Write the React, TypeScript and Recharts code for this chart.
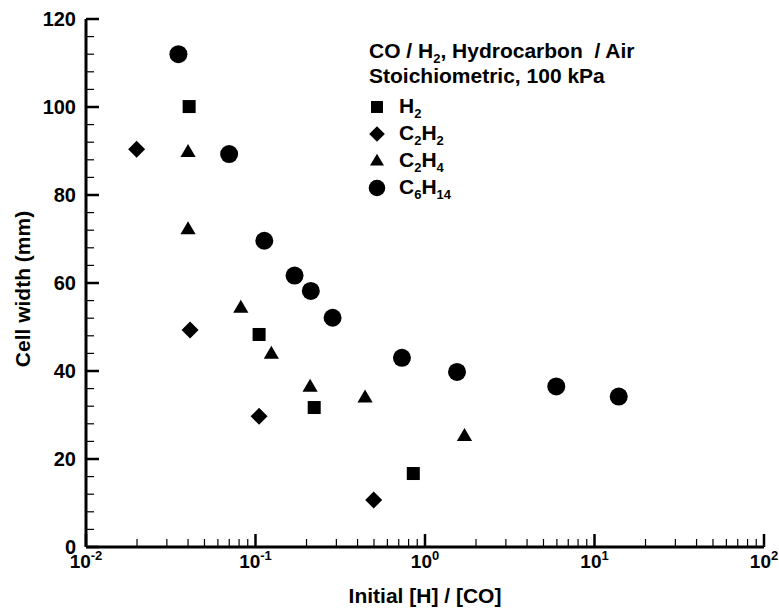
import React from 'react';
import { ScatterChart, Scatter, XAxis, YAxis, Legend, Label } from 'recharts';

const FONT = "'Liberation Sans', Arial, Helvetica, sans-serif";

// ---- data (x = initial [H]/[CO], y = cell width in mm) ----
const h2X = [0.0406, 0.105, 0.222, 0.853];
const h2Y = [100.1, 48.3, 31.7, 16.7];
const c2h2X = [0.0199, 0.0411, 0.105, 0.498];
const c2h2Y = [90.4, 49.3, 29.7, 10.7];
const c2h4X = [0.04, 0.04, 0.0819, 0.124, 0.21, 0.443, 1.71];
const c2h4Y = [89.8, 72.2, 54.4, 43.9, 36.4, 34.0, 25.2];
const c6h14X = [0.0351, 0.0699, 0.1127, 0.17, 0.212, 0.285, 0.731, 1.545, 5.95, 13.9];
const c6h14Y = [112.0, 89.3, 69.6, 61.7, 58.2, 52.1, 43.0, 39.8, 36.5, 34.2];

// ---- ticks ----
const xMajorTicks = [0.01, 0.1, 1, 10, 100];
const xMajorExponents = ['-2', '-1', '0', '1', '2'];
const xMinorMultipliers = [2, 3, 4, 5, 6, 7, 8, 9];
const yMajorTicks = [0, 20, 40, 60, 80, 100, 120];
const yMinorTicks = [4, 8, 12, 16, 24, 28, 32, 36, 44, 48, 52, 56, 64, 68, 72, 76, 84, 88, 92, 96, 104, 108, 112, 116];

// ---- legend texts ----
const legendTitle1 = ['CO / H', '2', ', Hydrocarbon  / Air'];
const legendTitle2 = 'Stoichiometric, 100 kPa';
const seriesNames = [
  [['H', '2']],
  [['C', '2'], ['H', '2']],
  [['C', '2'], ['H', '4']],
  [['C', '6'], ['H', '14']],
];
const seriesShapes = ['square', 'diamond', 'triangle', 'circle'];

const zip = (xs: number[], ys: number[]) => xs.map((x, i) => ({ x, y: ys[i] }));
const h2Data = zip(h2X, h2Y);
const c2h2Data = zip(c2h2X, c2h2Y);
const c2h4Data = zip(c2h4X, c2h4Y);
const c6h14Data = zip(c6h14X, c6h14Y);

const xTicks: number[] = [];
xMajorTicks.forEach((d, i) => {
  xTicks.push(d);
  if (i < xMajorTicks.length - 1) xMinorMultipliers.forEach((m) => xTicks.push(d * m));
});
const yTicks = [...yMajorTicks, ...yMinorTicks].sort((a, b) => a - b);

// ---- marker shapes ----
const markerPath = (kind: string, cx: number, cy: number, s = 1) => {
  switch (kind) {
    case 'square':
      return <rect x={cx - 6.5 * s} y={cy - 6.5 * s} width={13 * s} height={13 * s} fill="#000" />;
    case 'diamond': {
      const h = 8.5 * s;
      return <path d={`M${cx},${cy - h}L${cx + h},${cy}L${cx},${cy + h}L${cx - h},${cy}Z`} fill="#000" />;
    }
    case 'triangle':
      return <path d={`M${cx},${cy - 8 * s}L${cx + 7.6 * s},${cy + 5 * s}L${cx - 7.6 * s},${cy + 5 * s}Z`} fill="#000" />;
    default:
      return <circle cx={cx} cy={cy} r={9 * s} fill="#000" />;
  }
};
const makeShape = (kind: string) => (props: any) => {
  const { cx, cy } = props;
  if (cx == null || cy == null) return <g />;
  return markerPath(kind, cx, cy);
};

// ---- ticks ----
const isMajorX = (v: number) => xMajorTicks.findIndex((m) => Math.abs(v - m) / m < 1e-6);

const XTick = (props: any) => {
  const { x, y, payload } = props;
  const idx = isMajorX(payload.value);
  const major = idx >= 0;
  return (
    <g>
      <line x1={x} x2={x} y1={y} y2={y - (major ? 13 : 8)} stroke="#000" strokeWidth={major ? 2.5 : 1.2} />
      {major && (
        <text x={x} y={y + 21} textAnchor="middle" fontFamily={FONT} fontWeight="bold" fontSize={19} fill="#000">
          10<tspan dy={-8} fontSize={13}>{xMajorExponents[idx]}</tspan>
        </text>
      )}
    </g>
  );
};

const YTick = (props: any) => {
  const { x, y, payload } = props;
  const major = yMajorTicks.includes(payload.value);
  return (
    <g>
      <line x1={x} x2={x + (major ? 13 : 8)} y1={y} y2={y} stroke="#000" strokeWidth={major ? 2.5 : 1.2} />
      {major && (
        <text x={x - 10} y={y} dy="0.34em" textAnchor="end" fontFamily={FONT} fontWeight="bold" fontSize={20} fill="#000">
          {payload.value}
        </text>
      )}
    </g>
  );
};

const XTitle = (props: any) => {
  const vb = props.viewBox || {};
  return (
    <text x={vb.x + vb.width / 2} y={603} textAnchor="middle" fontFamily={FONT} fontWeight="bold" fontSize={21} fill="#000">
      Initial [H] / [CO]
    </text>
  );
};

const YTitle = (props: any) => {
  const vb = props.viewBox || {};
  const cy = vb.y + vb.height / 2 + 6;
  return (
    <text transform={`translate(30, ${cy}) rotate(-90)`} textAnchor="middle" fontFamily={FONT} fontWeight="bold" fontSize={21} fill="#000">
      Cell width (mm)
    </text>
  );
};

const subStyle: React.CSSProperties = { fontSize: 13, verticalAlign: '-5px', lineHeight: 0 };

const LegendBox = () => (
  <div style={{ fontFamily: FONT, fontWeight: 'bold', fontSize: 21, color: '#000', whiteSpace: 'pre', textAlign: 'left' }}>
    <div style={{ height: 25, lineHeight: '23px' }}>
      {legendTitle1[0]}
      <sub style={subStyle}>{legendTitle1[1]}</sub>
      {legendTitle1[2]}
    </div>
    <div style={{ height: 25, lineHeight: '23px' }}>{legendTitle2}</div>
    <div style={{ height: 3 }} />
    {seriesNames.map((parts, i) => (
      <div key={i} style={{ position: 'relative', height: 27, lineHeight: '27px', paddingLeft: 30 }}>
        <svg width={18} height={18} style={{ position: 'absolute', left: -1, top: 6 }}>
          {markerPath(seriesShapes[i], 9, 9, 0.92)}
        </svg>
        {parts.map((p, j) => (
          <React.Fragment key={j}>
            {p[0]}
            <sub style={subStyle}>{p[1]}</sub>
          </React.Fragment>
        ))}
      </div>
    ))}
  </div>
);

export default function App() {
  return (
    <div style={{ position: 'absolute', left: 0, top: 0, width: 779, height: 610, background: '#fff' }}>
      <ScatterChart width={779} height={610} margin={{ top: 19, right: 15, bottom: 0, left: 0 }}>
        <XAxis
          type="number"
          dataKey="x"
          scale="log"
          domain={[0.01, 100]}
          ticks={xTicks}
          interval={0}
          allowDataOverflow
          tick={(p: any) => <XTick {...p} />}
          tickLine={false}
          tickSize={0}
          tickMargin={0}
          axisLine={{ stroke: '#000', strokeWidth: 3 }}
          height={63}
        >
          <Label content={XTitle} />
        </XAxis>
        <YAxis
          type="number"
          dataKey="y"
          domain={[0, 120]}
          ticks={yTicks}
          interval={0}
          allowDataOverflow
          tick={(p: any) => <YTick {...p} />}
          tickLine={false}
          tickSize={0}
          tickMargin={0}
          axisLine={{ stroke: '#000', strokeWidth: 3 }}
          width={86}
        >
          <Label content={YTitle} />
        </YAxis>
        <Legend
          layout="vertical"
          align="center"
          verticalAlign="middle"
          content={() => <LegendBox />}
          wrapperStyle={{ left: 369, top: 39, width: 340, height: 200 }}
        />
        <Scatter name="H2" data={h2Data} shape={makeShape('square')} isAnimationActive={false} />
        <Scatter name="C2H2" data={c2h2Data} shape={makeShape('diamond')} isAnimationActive={false} />
        <Scatter name="C2H4" data={c2h4Data} shape={makeShape('triangle')} isAnimationActive={false} />
        <Scatter name="C6H14" data={c6h14Data} shape={makeShape('circle')} isAnimationActive={false} />
      </ScatterChart>
    </div>
  );
}
